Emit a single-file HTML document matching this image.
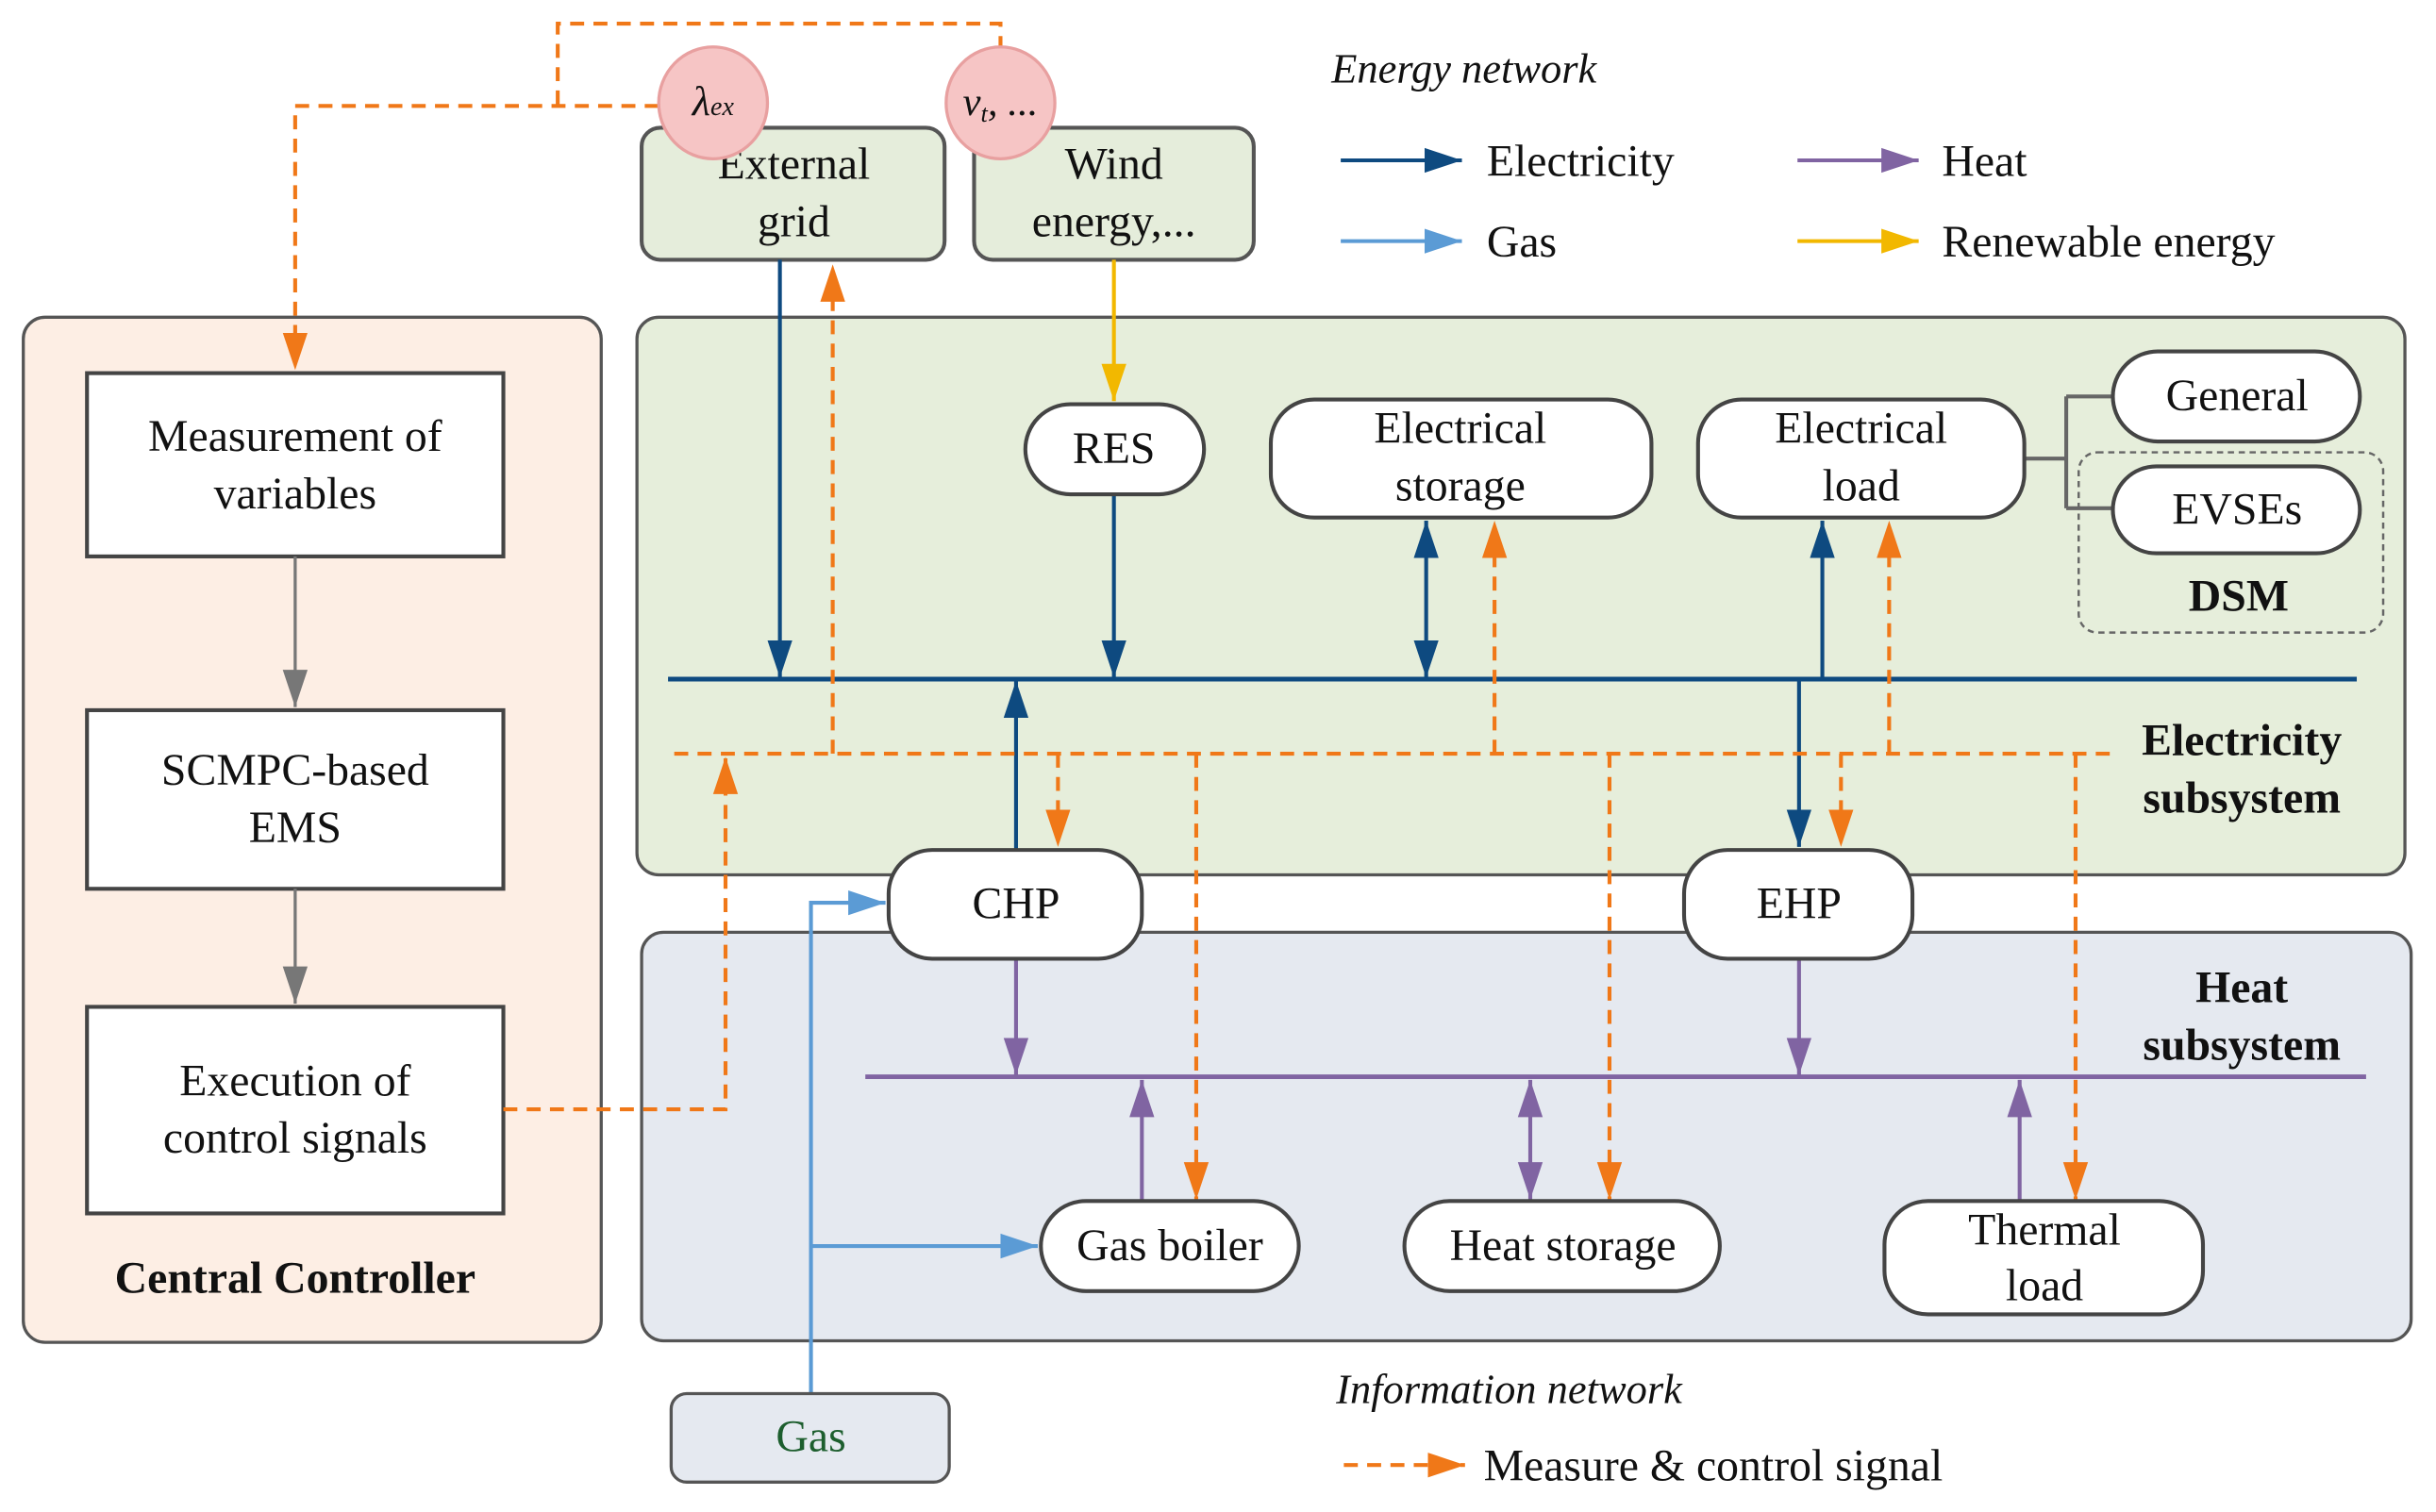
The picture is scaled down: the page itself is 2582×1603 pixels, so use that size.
<!DOCTYPE html>
<html><head><meta charset="utf-8"><style>html,body{margin:0;padding:0;background:#fff}svg{display:block}svg text{font-family:"Liberation Serif","DejaVu Serif",serif}</style></head>
<body>
<svg width="2582" height="1603" viewBox="0 0 1568 973" xmlns="http://www.w3.org/2000/svg" style="font-family:'Liberation Serif',serif" font-size="29" fill="#111">
<defs>
<marker id="ao" viewBox="0 0 24 24" refX="24" refY="12" markerWidth="24" markerHeight="24" orient="auto-start-reverse" markerUnits="userSpaceOnUse"><path d="M0,4L24,12L0,20z" fill="#f07818"/></marker>
<marker id="ad" viewBox="0 0 24 24" refX="24" refY="12" markerWidth="24" markerHeight="24" orient="auto-start-reverse" markerUnits="userSpaceOnUse"><path d="M0,4L24,12L0,20z" fill="#0e4a80"/></marker>
<marker id="ap" viewBox="0 0 24 24" refX="24" refY="12" markerWidth="24" markerHeight="24" orient="auto-start-reverse" markerUnits="userSpaceOnUse"><path d="M0,4L24,12L0,20z" fill="#8064a2"/></marker>
<marker id="al" viewBox="0 0 24 24" refX="24" refY="12" markerWidth="24" markerHeight="24" orient="auto-start-reverse" markerUnits="userSpaceOnUse"><path d="M0,4L24,12L0,20z" fill="#5b9bd5"/></marker>
<marker id="ay" viewBox="0 0 24 24" refX="24" refY="12" markerWidth="24" markerHeight="24" orient="auto-start-reverse" markerUnits="userSpaceOnUse"><path d="M0,4L24,12L0,20z" fill="#f2b800"/></marker>
<marker id="ag" viewBox="0 0 24 24" refX="24" refY="12" markerWidth="24" markerHeight="24" orient="auto-start-reverse" markerUnits="userSpaceOnUse"><path d="M0,4L24,12L0,20z" fill="#777"/></marker>
</defs>

<rect x="15" y="204" width="372" height="660" rx="14" fill="#fdeee4" stroke="#555" stroke-width="2"/>
<rect x="410" y="204" width="1138" height="359" rx="14" fill="#e6eedb" stroke="#555" stroke-width="2"/>
<rect x="413" y="600" width="1139" height="263" rx="14" fill="#e5e9f0" stroke="#555" stroke-width="2"/>

<rect x="56" y="240" width="268" height="118" fill="#fff" stroke="#444" stroke-width="2.5"/>
<rect x="56" y="457" width="268" height="115" fill="#fff" stroke="#444" stroke-width="2.5"/>
<rect x="56" y="648" width="268" height="133" fill="#fff" stroke="#444" stroke-width="2.5"/>
<g text-anchor="middle">
<text x="190" y="290">Measurement of</text><text x="190" y="327">variables</text>
<text x="190" y="505">SCMPC-based</text><text x="190" y="542">EMS</text>
<text x="190" y="705">Execution of</text><text x="190" y="742">control signals</text>
<text x="190" y="832" font-weight="bold">Central Controller</text>
</g>
<line x1="190" y1="358" x2="190" y2="455" stroke="#777" stroke-width="2" marker-end="url(#ag)"/>
<line x1="190" y1="572" x2="190" y2="646" stroke="#777" stroke-width="2" marker-end="url(#ag)"/>

<line x1="430" y1="437" x2="1517" y2="437" stroke="#0e4a80" stroke-width="3"/>
<line x1="557" y1="693" x2="1523" y2="693" stroke="#8064a2" stroke-width="3"/>

<rect x="413" y="82" width="195" height="85" rx="12" fill="#e5eddb" stroke="#555" stroke-width="2.5"/>
<rect x="627" y="82" width="180" height="85" rx="12" fill="#e5eddb" stroke="#555" stroke-width="2.5"/>
<g text-anchor="middle">
<text x="511" y="115">External</text><text x="511" y="152">grid</text>
<text x="717" y="115">Wind</text><text x="717" y="152">energy,...</text>
</g>

<g fill="none" stroke="#f07818" stroke-width="2.5" stroke-dasharray="9,6">
<path d="M644,32 V15 H359 V68"/>
<path d="M424,68 H190 V238" marker-end="url(#ao)"/>
</g>
<ellipse cx="459" cy="66" rx="35" ry="36" fill="#f6c5c5" stroke="#e8a0a0" stroke-width="2"/>
<ellipse cx="644" cy="66" rx="35" ry="36" fill="#f6c5c5" stroke="#e8a0a0" stroke-width="2"/>
<text x="459" y="74" text-anchor="middle" font-style="italic" font-size="27">λ<tspan font-size="17">ex</tspan></text>
<text x="644" y="74" text-anchor="middle" font-style="italic" font-size="26">v<tspan font-size="16" dy="4">t</tspan><tspan dy="-4">, ...</tspan></text>

<g stroke="#0e4a80" stroke-width="2.5" fill="none">
<line x1="502" y1="167" x2="502" y2="436" marker-end="url(#ad)"/>
<line x1="717" y1="318" x2="717" y2="436" marker-end="url(#ad)"/>
<line x1="918" y1="335" x2="918" y2="436" marker-start="url(#ad)" marker-end="url(#ad)"/>
<line x1="1173" y1="437" x2="1173" y2="335" marker-end="url(#ad)"/>
<line x1="1158" y1="437" x2="1158" y2="545" marker-end="url(#ad)"/>
<line x1="654" y1="547" x2="654" y2="438" marker-end="url(#ad)"/>
</g>
<line x1="717" y1="167" x2="717" y2="258" stroke="#f2b800" stroke-width="2.5" marker-end="url(#ay)"/>

<g stroke="#f07818" stroke-width="2.5" fill="none" stroke-dasharray="9,6">
<line x1="434" y1="485" x2="1362" y2="485"/>
<line x1="536" y1="485" x2="536" y2="170" marker-end="url(#ao)"/>
<line x1="962" y1="485" x2="962" y2="335" marker-end="url(#ao)"/>
<line x1="1216" y1="485" x2="1216" y2="335" marker-end="url(#ao)"/>
<line x1="681" y1="485" x2="681" y2="545" marker-end="url(#ao)"/>
<line x1="1185" y1="485" x2="1185" y2="545" marker-end="url(#ao)"/>
<line x1="770" y1="485" x2="770" y2="772" marker-end="url(#ao)"/>
<line x1="1036" y1="485" x2="1036" y2="772" marker-end="url(#ao)"/>
<line x1="1336" y1="485" x2="1336" y2="772" marker-end="url(#ao)"/>
<path d="M324,714 H467 V487" marker-end="url(#ao)"/>
</g>

<g stroke="#8064a2" stroke-width="2.5" fill="none">
<line x1="654" y1="617" x2="654" y2="692" marker-end="url(#ap)"/>
<line x1="1158" y1="617" x2="1158" y2="692" marker-end="url(#ap)"/>
<line x1="735" y1="773" x2="735" y2="695" marker-end="url(#ap)"/>
<line x1="985" y1="695" x2="985" y2="772" marker-start="url(#ap)" marker-end="url(#ap)"/>
<line x1="1300" y1="773" x2="1300" y2="695" marker-end="url(#ap)"/>
</g>

<g stroke="#5b9bd5" stroke-width="2.5" fill="none">
<path d="M522,897 V581 H570" marker-end="url(#al)"/>
<line x1="522" y1="802" x2="668" y2="802" marker-end="url(#al)"/>
</g>
<rect x="432" y="897" width="179" height="57" rx="10" fill="#e5e9f0" stroke="#555" stroke-width="2"/>
<text x="522" y="934" text-anchor="middle" fill="#1d5e2e">Gas</text>

<rect x="1338" y="291" width="196" height="116" rx="12" fill="none" stroke="#666" stroke-width="1.5" stroke-dasharray="4,3"/>
<path d="M1303,295 H1330 M1330,255 V327 M1330,255 H1360 M1330,327 H1360" stroke="#666" stroke-width="2.5" fill="none"/>

<g fill="#fff" stroke="#444" stroke-width="2.5">
<rect x="660" y="260" width="115" height="58" rx="29"/>
<rect x="818" y="257" width="245" height="76" rx="28"/>
<rect x="1093" y="257" width="210" height="76" rx="28"/>
<rect x="1360" y="226" width="159" height="58" rx="29"/>
<rect x="1360" y="300" width="159" height="56" rx="28"/>
<rect x="572" y="547" width="163" height="70" rx="28"/>
<rect x="1084" y="547" width="147" height="70" rx="28"/>
<rect x="670" y="773" width="166" height="58" rx="29"/>
<rect x="904" y="773" width="203" height="58" rx="29"/>
<rect x="1213" y="773" width="205" height="73" rx="28"/>
</g>
<g text-anchor="middle">
<text x="717" y="298">RES</text>
<text x="940" y="285">Electrical</text><text x="940" y="322">storage</text>
<text x="1198" y="285">Electrical</text><text x="1198" y="322">load</text>
<text x="1440" y="264">General</text>
<text x="1440" y="337">EVSEs</text>
<text x="1441" y="393" font-weight="bold">DSM</text>
<text x="654" y="591">CHP</text>
<text x="1158" y="591">EHP</text>
<text x="753" y="811">Gas boiler</text>
<text x="1006" y="811">Heat storage</text>
<text x="1316" y="801">Thermal</text><text x="1316" y="837">load</text>
<text x="1443" y="486" font-weight="bold">Electricity</text>
<text x="1443" y="523" font-weight="bold">subsystem</text>
<text x="1443" y="645" font-weight="bold">Heat</text>
<text x="1443" y="682" font-weight="bold">subsystem</text>
</g>

<text x="857" y="53" font-style="italic" font-size="27">Energy network</text>
<line x1="863" y1="103" x2="941" y2="103" stroke="#0e4a80" stroke-width="2.5" marker-end="url(#ad)"/>
<text x="957" y="113">Electricity</text>
<line x1="1157" y1="103" x2="1235" y2="103" stroke="#8064a2" stroke-width="2.5" marker-end="url(#ap)"/>
<text x="1250" y="113">Heat</text>
<line x1="863" y1="155" x2="941" y2="155" stroke="#5b9bd5" stroke-width="2.5" marker-end="url(#al)"/>
<text x="957" y="165">Gas</text>
<line x1="1157" y1="155" x2="1235" y2="155" stroke="#f2b800" stroke-width="2.5" marker-end="url(#ay)"/>
<text x="1250" y="165">Renewable energy</text>
<text x="860" y="903" font-style="italic" font-size="27">Information network</text>
<line x1="865" y1="943" x2="943" y2="943" stroke="#f07818" stroke-width="2.5" stroke-dasharray="9,6" marker-end="url(#ao)"/>
<text x="955" y="953">Measure &amp; control signal</text>
</svg>
</body></html>
